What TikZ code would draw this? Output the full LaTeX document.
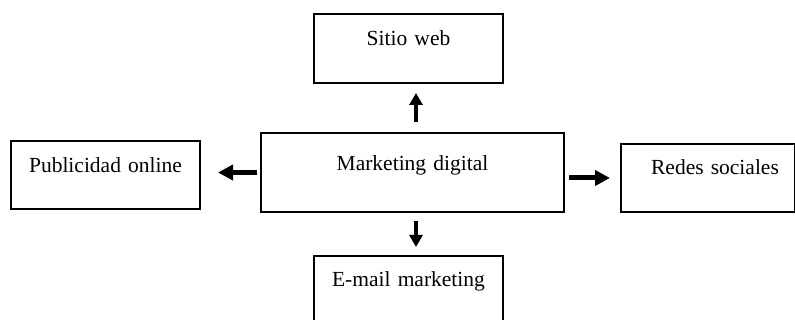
\documentclass[tikz,border=0pt]{standalone}
\usepackage{fontspec}
\setmainfont{Liberation Serif}
\usetikzlibrary{arrows.meta}
\begin{document}
\begin{tikzpicture}[x=1pt,y=-1pt,
  box/.style={draw, line width=2pt, inner sep=0pt, align=center, anchor=north west,
    font=\fontsize{21.5pt}{24pt}\selectfont},
  vlink/.style={line width=4.5pt, -{Triangle[length=12pt,width=13pt]}},
  hlink/.style={line width=5pt, -{Triangle[length=15pt,width=15pt]}}]
\useasboundingbox (0,0) rectangle (795,320);

% boxes: text height = top to baseline, text depth = baseline to bottom
\node[box, text width=303pt, text height=38pt, text depth=41pt] (mkt) at (260,132) {Marketing digital};
\node[box, text width=189pt, text height=32pt, text depth=37pt] (web) at (313,13) {Sitio web};
\node[box, text width=189pt, text height=32pt, text depth=36pt] (pub) at (10,140) {Publicidad online};
\node[box, text width=174pt, text height=31pt, text depth=37pt] (red) at (620,143) {\hspace*{14pt}Redes sociales};
\node[box, text width=189pt, text height=31pt, text depth=38pt] (mail) at (313,255) {E-mail marketing};

% arrows
\draw[vlink, shorten <=10pt, shorten >=9pt]
  ([xshift=3.5pt]mkt.north) -- ([xshift=3.5pt]mkt.north |- web.south);
\draw[vlink, shorten <=8pt, shorten >=8pt]
  ([xshift=3.5pt]mkt.south) -- ([xshift=3.5pt]mkt.south |- mail.north);
\draw[hlink, shorten <=3pt, shorten >=17pt]
  (mkt.west) -- (mkt.west -| pub.east);
\draw[hlink, shorten <=4pt, shorten >=10pt]
  (mkt.east |- red.west) -- (red.west);
\end{tikzpicture}
\end{document}
